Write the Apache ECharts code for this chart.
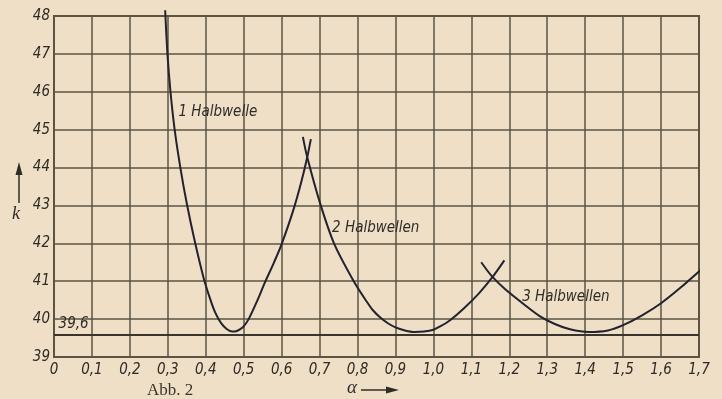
<!DOCTYPE html>
<html>
<head>
<meta charset="utf-8">
<script src="https://cdn.jsdelivr.net/npm/echarts@6/dist/echarts.min.js"></script>
<style>
html,body{margin:0;padding:0;background:#eedfc6;}
#c{width:722px;height:399px;}
</style>
</head>
<body>
<div id="c"></div>
<script>
// axis ticks
const xTickLabels = ['0','0,1','0,2','0,3','0,4','0,5','0,6','0,7','0,8','0,9','1,0','1,1','1,2','1,3','1,4','1,5','1,6','1,7'];
const yTickLabels = [39,40,41,42,43,44,45,46,47,48];
const kMinLine = 39.6;

// curves: [alpha, k]
const halbwelle1 = [[0.293,48.15],[0.299,47.0],[0.307,46.0],[0.318,45.0],[0.333,44.0],[0.350,43.05],[0.370,42.1],[0.394,41.1],[0.412,40.52],[0.425,40.17],[0.440,39.90],[0.455,39.74],[0.470,39.67],[0.480,39.68],[0.490,39.73],[0.500,39.81],[0.513,40.0],[0.535,40.47],[0.556,40.97],[0.580,41.50],[0.600,41.98],[0.633,42.95],[0.660,43.95],[0.677,44.75]];
const halbwellen2 = [[0.656,44.81],[0.667,44.29],[0.700,43.10],[0.738,42.0],[0.790,41.0],[0.825,40.45],[0.840,40.24],[0.860,40.04],[0.880,39.89],[0.900,39.78],[0.925,39.70],[0.950,39.66],[0.975,39.67],[1.000,39.72],[1.020,39.82],[1.044,39.97],[1.080,40.28],[1.120,40.68],[1.155,41.10],[1.187,41.55]];
const halbwellen3 = [[1.126,41.50],[1.155,41.12],[1.190,40.78],[1.240,40.38],[1.280,40.08],[1.320,39.87],[1.360,39.73],[1.410,39.66],[1.460,39.70],[1.500,39.84],[1.550,40.10],[1.600,40.42],[1.650,40.82],[1.707,41.32]];

// annotation texts placed in data coordinates
const annotations = [
  {text:'1 Halbwelle', at:[0.328,45.47]},
  {text:'2 Halbwellen', at:[0.733,42.41]},
  {text:'3 Halbwellen', at:[1.234,40.59]},
  {text:'39,6', at:[0.012,39.86]}
];

const ink = '#23222e';
const gridInk = '#5b5445';
const fontNarrow = "'Liberation Sans Narrow','DejaVu Sans Condensed',sans-serif";

const chart = echarts.init(document.getElementById('c'), null, {renderer:'canvas'});

function curve(data, extra){
  return Object.assign({
    type:'line', data:data, smooth:0.3, showSymbol:false, symbol:'none',
    clip:false, lineStyle:{color:ink, width:2}, silent:true, z:5
  }, extra||{});
}

chart.setOption({
  backgroundColor:'#eedfc6',
  animation:false,
  grid:{left:54, right:23, top:16, bottom:42, show:true, borderColor:gridInk, borderWidth:2, backgroundColor:'transparent'},
  xAxis:{
    type:'value', min:0, max:1.7, interval:0.1,
    axisLine:{show:false}, axisTick:{show:false},
    splitLine:{show:true, lineStyle:{color:gridInk, width:1.5}},
    axisLabel:{
      color:'#2e2a24', fontSize:15, fontStyle:'italic', fontFamily:fontNarrow, margin:6,
      formatter:function(v){return xTickLabels[Math.round(v*10)];}
    }
  },
  yAxis:{
    type:'value', min:yTickLabels[0], max:yTickLabels[yTickLabels.length-1], interval:1,
    axisLine:{show:false}, axisTick:{show:false},
    splitLine:{show:true, lineStyle:{color:gridInk, width:1.5}},
    axisLabel:{
      color:'#2e2a24', fontSize:15, fontStyle:'italic', fontFamily:fontNarrow, margin:4,
      formatter:function(v){return String(v);}
    }
  },
  series:[
    curve(halbwelle1, {
      markLine:{
        silent:true, symbol:['none','none'], label:{show:false},
        lineStyle:{color:'#3a352c', width:2, type:'solid'},
        data:[{yAxis:kMinLine}]
      },
      markPoint:{
        symbol:'circle', symbolSize:0, silent:true,
        label:{show:true, position:'right', distance:0, color:'#2f2c28', fontSize:15, fontStyle:'italic', fontFamily:fontNarrow,
          formatter:function(p){return p.name;}},
        data:annotations.map(a=>({name:a.text, coord:a.at}))
      }
    }),
    curve(halbwellen2),
    curve(halbwellen3)
  ],
  graphic:[
    {type:'text', left:12, top:205, style:{text:'k', font:"italic 18px 'Liberation Serif','DejaVu Serif',serif", fill:'#2f2c28'}},
    {type:'line', shape:{x1:19, y1:203, x2:19, y2:172}, style:{stroke:'#2f2c28', lineWidth:1.5}},
    {type:'polygon', shape:{points:[[19,162],[15.5,175],[22.5,175]]}, style:{fill:'#2f2c28'}},
    {type:'text', left:347, top:378, style:{text:'α', font:"italic 19px 'Liberation Serif','DejaVu Serif',serif", fill:'#2f2c28'}},
    {type:'line', shape:{x1:361, y1:390, x2:388, y2:390}, style:{stroke:'#2f2c28', lineWidth:1.5}},
    {type:'polygon', shape:{points:[[399,390],[386,386.5],[386,393.5]]}, style:{fill:'#2f2c28'}},
    {type:'text', left:147, top:382, style:{text:'Abb. 2', font:"17px 'Liberation Serif','DejaVu Serif',serif", fill:'#3a352c'}}
  ]
});
</script>
</body>
</html>
